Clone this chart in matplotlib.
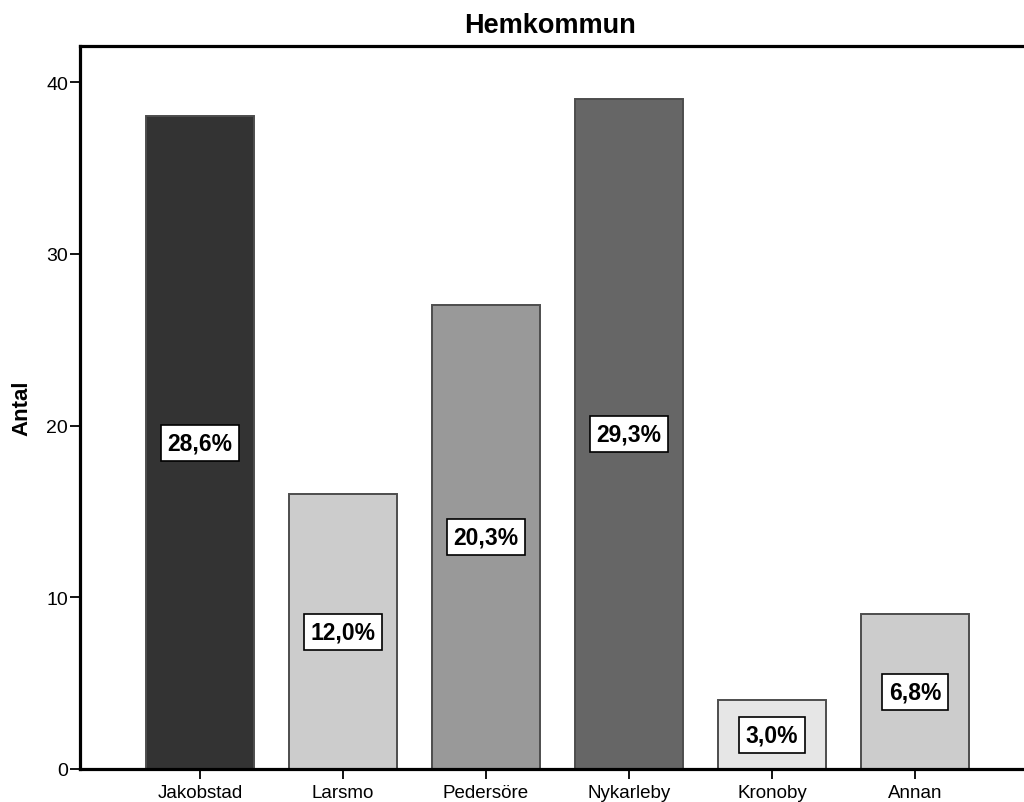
import matplotlib.pyplot as plt

plt.rcParams['font.family'] = ['Liberation Sans', 'DejaVu Sans']

kommuner = ['Jakobstad', 'Larsmo', 'Pedersöre', 'Nykarleby', 'Kronoby', 'Annan']
antal = [38, 16, 27, 39, 4, 9]
farger = ['#333333', '#cccccc', '#999999', '#666666', '#e6e6e6', '#cccccc']

total = sum(antal)

fig = plt.figure(figsize=(10.24, 8.03), dpi=100)
ax = fig.add_axes([80 / 1024, 1 - 770 / 803, 955 / 1024, 723 / 803])

x = range(len(kommuner))
ax.bar(x, antal, width=0.755, color=farger, edgecolor='#4d4d4d', linewidth=1.4, zorder=2)

# procentetikett mitt i varje stapel
for i, v in enumerate(antal):
    pct = f'{100 * v / total:.1f}%'.replace('.', ',')
    ax.text(i, v / 2, pct, ha='center', va='center', fontsize=16.5, fontweight='bold',
            bbox=dict(boxstyle='square,pad=0.28', facecolor='white', edgecolor='black', linewidth=1.2),
            zorder=3)

ax.set_xlim(-0.84, 5.84)
ax.set_ylim(0, 42.1)
ax.set_yticks([0, 10, 20, 30, 40])
ax.set_xticks(list(x))
ax.set_xticklabels(kommuner, fontsize=13.5)
ax.tick_params(axis='y', labelsize=14, length=7.5, width=1.3, pad=1)
ax.tick_params(axis='x', length=7.5, width=1.3, pad=3)

for side in ['left', 'bottom', 'top', 'right']:
    ax.spines[side].set_linewidth(2.3)

ax.set_ylabel('Antal', fontsize=16, fontweight='bold', labelpad=10)
fig.text(550 / 1024, 1 - 33 / 803, 'Hemkommun', ha='center', va='baseline',
         fontsize=19.5, fontweight='bold')

fig.savefig('out.png', dpi=100)
